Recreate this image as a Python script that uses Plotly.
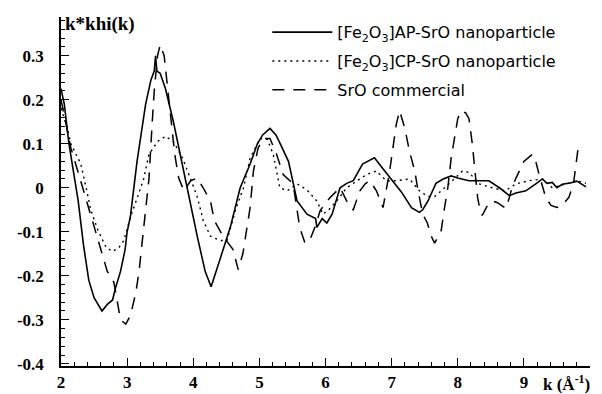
import plotly.graph_objects as go

# ---- data ----
k_ap = [2.0, 2.05, 2.12, 2.18, 2.23, 2.26, 2.34, 2.42, 2.5, 2.62, 2.7, 2.78, 2.82, 2.9, 2.97,
        3.0, 3.05, 3.1, 3.15, 3.2, 3.28, 3.36, 3.41, 3.43, 3.45, 3.5, 3.58, 3.7, 3.8, 3.91,
        4.06, 4.18, 4.27, 4.41, 4.56, 4.71, 4.86, 4.97, 5.05, 5.16, 5.25, 5.3, 5.44, 5.57,
        5.72, 5.85, 5.87, 5.95, 6.02, 6.1, 6.22, 6.32, 6.42, 6.56, 6.74, 6.86, 7.01, 7.15,
        7.3, 7.42, 7.47, 7.55, 7.67, 7.78, 7.9, 8.0, 8.17, 8.32, 8.47, 8.63, 8.78, 8.88,
        9.03, 9.18, 9.28, 9.35, 9.43, 9.5, 9.58, 9.7, 9.8, 9.94]
v_ap = [0.225, 0.19, 0.1, 0.04, 0.0, -0.03, -0.13, -0.21, -0.25, -0.28, -0.265, -0.255, -0.23, -0.19, -0.14,
        -0.10, -0.065, 0.0, 0.06, 0.11, 0.19, 0.245, 0.265, 0.30, 0.265, 0.26, 0.225, 0.15, 0.076, 0.0,
        -0.11, -0.19, -0.225, -0.16, -0.09, 0.0, 0.054, 0.1, 0.12, 0.135, 0.12, 0.105, 0.06, -0.03,
        -0.06, -0.07, -0.09, -0.07, -0.08, -0.06, 0.0, 0.01, 0.016, 0.054, 0.068, 0.045, 0.016, -0.01,
        -0.045, -0.056, -0.05, -0.03, 0.01, 0.02, 0.027, 0.022, 0.016, 0.016, 0.016, 0.0, -0.018, -0.012,
        -0.007, 0.009, 0.02, 0.01, 0.012, 0.0, 0.008, 0.011, 0.015, 0.002]

k_cp = [2.0, 2.08, 2.15, 2.3, 2.38, 2.45, 2.56, 2.68, 2.78, 2.88, 2.95, 3.05, 3.16, 3.25, 3.33,
        3.46, 3.58, 3.7, 3.84, 3.96, 4.06, 4.15, 4.26, 4.41, 4.51, 4.64, 4.76, 4.86, 5.01, 5.12,
        5.21, 5.31, 5.42, 5.57, 5.72, 5.87, 5.96, 6.05, 6.17, 6.32, 6.47, 6.62, 6.77, 6.92, 7.07,
        7.27, 7.42, 7.55, 7.65, 7.87, 8.07, 8.17, 8.32, 8.52, 8.72, 8.88, 9.08, 9.28, 9.43, 9.65,
        9.8, 9.94]
v_cp = [0.18, 0.144, 0.1, 0.054, 0.0, -0.05, -0.097, -0.135, -0.145, -0.135, -0.12, -0.067, -0.02, 0.02, 0.076,
        0.105, 0.117, 0.105, 0.067, 0.022, -0.02, -0.074, -0.11, -0.12, -0.12, -0.05, 0.0, 0.067, 0.112, 0.11,
        0.076, 0.0, -0.007, 0.009, -0.005, -0.03, -0.06, -0.05, -0.03, 0.0, 0.016, 0.03, 0.038, 0.016, 0.016,
        0.02, -0.007, -0.02, -0.02, 0.009, 0.038, 0.035, 0.009, 0.0, -0.007, 0.009, 0.016, 0.02, 0.0, 0.01,
        0.016, 0.01]

k_sro = [2.0, 2.08, 2.15, 2.25, 2.35, 2.45, 2.53, 2.6, 2.7, 2.8, 2.85, 2.9, 2.98, 3.05, 3.13,
         3.18, 3.23, 3.28, 3.33, 3.38, 3.41, 3.46, 3.5, 3.56, 3.61, 3.66, 3.72, 3.78, 3.86, 3.96,
         4.06, 4.15, 4.26, 4.32, 4.45, 4.6, 4.68, 4.75, 4.8, 4.86, 4.91, 4.98, 5.06, 5.16, 5.26,
         5.36, 5.51, 5.56, 5.61, 5.69, 5.76, 5.84, 5.92, 5.99, 6.07, 6.22, 6.37, 6.42, 6.52, 6.6,
         6.67, 6.77, 6.87, 6.97, 7.02, 7.07, 7.12, 7.2, 7.27, 7.35, 7.4, 7.47, 7.54, 7.6, 7.65,
         7.75, 7.8, 7.85, 7.9, 7.95, 8.0, 8.05, 8.12, 8.17, 8.2, 8.22, 8.25, 8.28, 8.3, 8.33,
         8.37, 8.45, 8.52, 8.6, 8.73, 8.78, 8.82, 8.88, 8.95, 9.0, 9.13, 9.18, 9.23, 9.33, 9.41,
         9.5, 9.58, 9.68, 9.75, 9.8, 9.82]
v_sro = [0.2, 0.14, 0.09, 0.04, -0.01, -0.06, -0.1, -0.135, -0.19, -0.215, -0.26, -0.3, -0.31, -0.29, -0.24,
         -0.19, -0.12, -0.05, 0.02, 0.15, 0.22, 0.3, 0.325, 0.3, 0.225, 0.15, 0.076, 0.022, -0.007, 0.016,
         0.022, 0.0, -0.03, -0.075, -0.11, -0.14, -0.186, -0.15, -0.1, -0.045, 0.038, 0.09, 0.112, 0.112, 0.076,
         0.03, 0.009, -0.045, -0.09, -0.126, -0.12, -0.09, -0.052, -0.037, -0.022, 0.0, -0.045, -0.05, -0.007, 0.009,
         0.016, -0.007, -0.045, 0.038, 0.09, 0.144, 0.175, 0.135, 0.083, 0.038, -0.007, -0.06, -0.08, -0.11, -0.126,
         -0.097, -0.045, 0.0, 0.067, 0.112, 0.157, 0.175, 0.17, 0.157, 0.128, 0.1, 0.054, 0.016, -0.022, -0.045,
         -0.063, -0.04, -0.03, -0.034, -0.047, -0.022, 0.0, 0.022, 0.045, 0.06, 0.076, 0.06, 0.03, -0.022, -0.04,
         -0.045, -0.04, -0.022, 0.009, 0.06, 0.09]

names = ["[Fe<sub>2</sub>O<sub>3</sub>]AP-SrO nanoparticle",
         "[Fe<sub>2</sub>O<sub>3</sub>]CP-SrO nanoparticle",
         "SrO commercial"]

x_tickvals = [2, 3, 4, 5, 6, 7, 8, 9, 10]
x_ticktext = ["2", "3", "4", "5", "6", "7", "8", "9", ""]
y_tickvals = [-0.4, -0.3, -0.2, -0.1, 0, 0.1, 0.2, 0.3]
y_ticktext = ["-0.4", "-0.3", "-0.2", "-0.1", "0", "0.1", "0.2", "0.3"]

fig = go.Figure()
fig.add_trace(go.Scatter(x=k_ap, y=v_ap, mode="lines", name=names[0], legendgroup="a",
                         line=dict(color="black", width=1.6)))
fig.add_trace(go.Scatter(x=k_cp, y=v_cp, mode="lines", name=names[1], legendgroup="b",
                         line=dict(color="black", width=1.4, dash="2px,4px")))
fig.add_trace(go.Scatter(x=k_sro, y=v_sro, mode="lines", name=names[2], legendgroup="c",
                         line=dict(color="black", width=1.5, dash="12px,9px")))

serif = dict(family="Liberation Serif", size=17, color="black", weight="bold")

fig.update_layout(
    width=602, height=394,
    margin=dict(l=61, r=12, t=17, b=28),
    paper_bgcolor="white", plot_bgcolor="white",
    showlegend=True,
    legend=dict(x=0.39, y=1.005, xanchor="left", yanchor="top",
                bgcolor="rgba(0,0,0,0)", font=dict(family="DejaVu Sans", size=16, color="black"),
                itemwidth=60, tracegroupgap=5),
    xaxis=dict(range=[2, 10], showline=True, linecolor="black", linewidth=1.5,
               showgrid=False, zeroline=False, ticks="inside", ticklen=8, tickwidth=1.2,
               tickcolor="black", tickvals=x_tickvals, ticktext=x_ticktext,
               tickfont=serif, automargin=False,
               minor=dict(ticks="inside", ticklen=4, tickcolor="black", tick0=0, dtick=0.2,
                          showgrid=False)),
    yaxis=dict(range=[-0.405, 0.388], showline=True, linecolor="black", linewidth=1.5,
               showgrid=False, zeroline=False, ticks="inside", ticklen=8, tickwidth=1.2,
               tickcolor="black", tickvals=y_tickvals, ticktext=y_ticktext,
               tickfont=serif, ticklabelstandoff=12, automargin=False,
               minor=dict(ticks="inside", ticklen=4, tickcolor="black", tick0=0, dtick=0.02,
                          showgrid=False)),
    annotations=[
        dict(text="k*khi(k)", xref="paper", yref="paper", x=0.004, y=0.98,
             xanchor="left", yanchor="middle", showarrow=False,
             font=dict(family="Liberation Serif", size=19, color="black", weight="bold")),
        dict(text="k (Å<sup>-1</sup>)", xref="paper", yref="paper", x=0.956, y=-0.05,
             xanchor="center", yanchor="middle", showarrow=False,
             font=dict(family="Liberation Serif", size=17, color="black", weight="bold")),
    ],
)

fig.write_html("out.html")
